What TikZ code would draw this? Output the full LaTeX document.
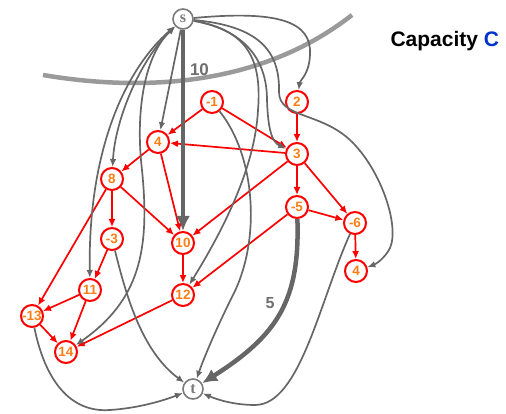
\documentclass[tikz,border=0pt]{standalone}
\usepackage{fontspec}
\setmainfont{Liberation Sans}
\newfontfamily\termfont{Liberation Serif}
\usetikzlibrary{arrows.meta}

\definecolor{edgegray}{HTML}{666666}
\definecolor{termgray}{HTML}{7A7A7A}
\definecolor{cutgray}{HTML}{9A9A9A}
\definecolor{labelgray}{HTML}{6E6E6E}
\definecolor{numorange}{RGB}{255,125,20}
\definecolor{capblue}{HTML}{0033CC}

\tikzset{
  vnode/.style={circle, draw=red, line width=2pt, minimum size=22pt, inner sep=0pt,
    text=numorange, font=\bfseries\fontsize{13.5}{13.5}\selectfont},
  tnode/.style={circle, draw=termgray, line width=1.6pt, minimum size=20pt, inner sep=0pt,
    text=termgray, font=\termfont\bfseries\fontsize{16}{16}\selectfont},
  redarrow/.style={draw=red, line width=1.7pt, -{Latex[length=8pt,width=7pt]}},
  grayarrow/.style={draw=edgegray, line width=1.7pt, -{Latex[length=8pt,width=6.5pt]}},
  grayboth/.style={draw=edgegray, line width=1.7pt, {Latex[length=8pt,width=6.5pt]}-{Latex[length=8pt,width=6.5pt]}},
  bigarrow/.style={draw=edgegray, line width=4.5pt, -{Latex[length=15pt,width=14pt]}},
  caplabel/.style={text=labelgray, font=\bfseries\fontsize{17}{17}\selectfont}
}

\begin{document}
\begin{tikzpicture}[x=1pt,y=-1pt]
\useasboundingbox (0,0) rectangle (506,414);

% the cut
\draw[cutgray, line width=4.5pt] (43,75) .. controls (120,88) and (250,95) .. (352,15);

% terminals
\node[tnode] (s) at (183,19) {s};
\node[tnode] (t) at (193,389) {t};

% weighted nodes
\node[vnode] (nm1) at (212,102) {-1};
\node[vnode] (n2)  at (297,102) {2};
\node[vnode] (n4a) at (158,142) {4};
\node[vnode] (n3)  at (297,154) {3};
\node[vnode] (n8)  at (112,179) {8};
\node[vnode] (nm3) at (112,239) {-3};
\node[vnode] (n10) at (183,243) {10};
\node[vnode] (nm5) at (297,207) {-5};
\node[vnode] (nm6) at (355,223) {-6};
\node[vnode] (n4b) at (356,271) {4};
\node[vnode] (n11) at (90,290) {11};
\node[vnode] (n12) at (183,295) {12};
\node[vnode] (nm13) at (32,316) {-13};
\node[vnode] (n14) at (66,352) {14};

% dependency edges
\draw[redarrow] (nm1) -- (n4a);
\draw[redarrow] (nm1) -- (n3);
\draw[redarrow] (n2) -- (n3);
\draw[redarrow] (n3) -- (n4a);
\draw[redarrow] (n3) -- (n10);
\draw[redarrow] (n3) -- (nm5);
\draw[redarrow] (n3) -- (nm6);
\draw[redarrow] (n4a) -- (n8);
\draw[redarrow] (n4a) -- (n10);
\draw[redarrow] (n8) -- (nm3);
\draw[redarrow] (n8) -- (n10);
\draw[redarrow] (n8) -- (nm13);
\draw[redarrow] (nm3) -- (n11);
\draw[redarrow] (n10) -- (n12);
\draw[redarrow] (nm5) -- (nm6);
\draw[redarrow] (nm5) -- (n12);
\draw[redarrow] (nm6) -- (n4b);
\draw[redarrow] (n11) -- (nm13);
\draw[redarrow] (n11) -- (n14);
\draw[redarrow] (nm13) -- (n14);
\draw[redarrow] (n12) -- (n14);

% source edges
\draw[bigarrow] (s) -- (n10);
\draw[grayarrow] (s) -- (n4a);
\draw[grayboth] (s) .. controls (140,60) and (115,120) .. (n8);
\draw[grayboth] (s) .. controls (125,70) and (88,150) .. (n11);
\draw[grayboth] (s) .. controls (145,55) and (135,110) .. (142,170)
  .. controls (150,250) and (140,300) .. (n14);
\draw[grayarrow] (s) .. controls (280,10) and (312,22) .. (310,55)
  .. controls (309,75) and (300,80) .. (n2);
\draw[grayarrow] (s) .. controls (245,30) and (267,60) .. (267,100)
  .. controls (268,130) and (272,142) .. (n3);
\draw[grayarrow] (s) .. controls (248,30) and (262,60) .. (258,110)
  .. controls (255,170) and (220,235) .. (n12);
\draw[grayarrow] (s) .. controls (258,26) and (280,50) .. (279,92)
  .. controls (279,118) and (320,112) .. (350,140)
  .. controls (380,168) and (400,225) .. (390,248)
  .. controls (385,258) and (376,264) .. (n4b);

% sink edges
\draw[grayarrow] (nm1) .. controls (255,155) and (262,240) .. (232,297)
  .. controls (218,325) and (205,355) .. (t);
\draw[bigarrow] (nm5) .. controls (300,300) and (278,335) .. (t);
\draw[grayarrow] (nm6) .. controls (320,300) and (300,405) .. (255,405)
  .. controls (235,405) and (218,400) .. (t);
\draw[grayarrow] (nm3) .. controls (125,290) and (140,350) .. (t);
\draw[grayarrow] (nm13) .. controls (45,380) and (70,413) .. (110,410)
  .. controls (140,408) and (165,400) .. (t);

% capacities
\node[caplabel] (c10) at (199.5,69.5) {10};
\node[caplabel, font=\bfseries\fontsize{16}{16}\selectfont] (c5) at (270,303) {5};

\node[anchor=base west, font=\bfseries\fontsize{21}{21}\selectfont] (cap) at (387,47)
  {Capacity \textcolor{capblue}{C}};
\end{tikzpicture}
\end{document}
